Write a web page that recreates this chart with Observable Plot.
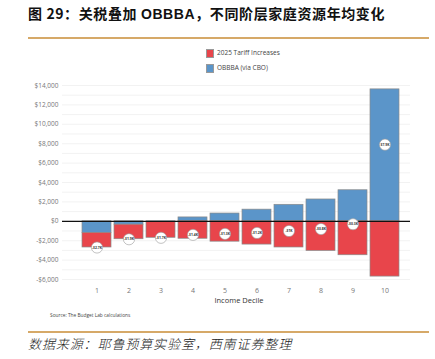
<!DOCTYPE html>
<html><head><meta charset="utf-8">
<script src="https://cdn.jsdelivr.net/npm/d3@7"></script>
<script src="https://cdn.jsdelivr.net/npm/@observablehq/plot@0.6"></script>
<style>
html,body{margin:0;padding:0;background:#fff}
body{width:435px;height:359px;position:relative;overflow:hidden;font-family:"Open Sans","Liberation Sans",sans-serif}
.abs{position:absolute;white-space:nowrap}
#title{left:28px;top:4px;font-family:"Noto Sans CJK SC";font-weight:bold;font-size:14px;line-height:18px;color:#111;letter-spacing:0.6px}
#title b{font-family:"Liberation Sans",Arial,sans-serif;font-weight:bold}
.hr{position:absolute;left:28px;width:401px;height:2px;background:#d6a968}
#legend{left:206px;top:45px;font-size:6.5px;color:#444;line-height:15px}
#legend span.sw{display:inline-block;width:8px;height:9px;vertical-align:middle;margin-right:3px;border:0.5px solid #999;box-sizing:border-box}
#chart{left:0;top:72px}
#xlabel{left:239px;top:295px;transform:translateX(-50%);font-size:7.5px;color:#333;line-height:10px}
#source{left:50px;top:312px;font-size:4.8px;color:#444;line-height:6px}
#footer{left:28px;top:336px;font-family:"Noto Sans CJK SC";font-style:italic;font-weight:300;font-size:13px;line-height:16px;color:#222;letter-spacing:0.9px}
</style>
</head><body>
<div id="title" class="abs">图 29：关税叠加 <b>OBBBA</b>，不同阶层家庭资源年均变化</div>
<div class="hr" style="top:37px"></div>
<div id="legend" class="abs"></div>
<div id="chart" class="abs"></div>
<div id="xlabel" class="abs">Income Decile</div>
<div id="source" class="abs">Source: The Budget Lab calculations</div>
<div class="hr" style="top:331px"></div>
<div id="footer" class="abs">数据来源：耶鲁预算实验室，西南证券整理</div>
<script>
// ---- data ----
const deciles = [1, 2, 3, 4, 5, 6, 7, 8, 9, 10];
const seriesNames = ["2025 Tariff Increases", "OBBBA (via CBO)"];
const seriesColors = ["#e8454b", "#5b95c9"];
const tariff = [-1500, -1500, -1650, -1800, -2100, -2400, -2700, -3050, -3500, -5700];
const obbba = [-1200, -350, -50, 400, 800, 1200, 1700, 2250, 3200, 13600];
const netLabels = ["-$2.7K", "-$1.9K", "-$1.7K", "-$1.4K", "-$1.3K", "-$1.2K", "-$1K", "-$0.8K", "-$0.3K", "$7.9K"];
const yTicks = [-6000, -4000, -2000, 0, 2000, 4000, 6000, 8000, 10000, 12000, 14000];
const yGrid = d3.range(-6000, 14001, 1000);

// legend
const legend = document.getElementById("legend");
seriesNames.forEach((n, i) => {
  const row = document.createElement("div");
  row.innerHTML = `<span class="sw" style="background:${seriesColors[i]}"></span>${n}`;
  legend.appendChild(row);
});

// long table: OBBBA first so it stacks next to zero
const rows = [];
deciles.forEach((d, i) => {
  rows.push({decile: d, series: seriesNames[1], value: obbba[i]});
  rows.push({decile: d, series: seriesNames[0], value: tariff[i]});
});
const nets = deciles.map((d, i) => ({decile: d, net: tariff[i] + obbba[i], label: netLabels[i]}));

const fmt = v => (v < 0 ? "-" : "") + "$" + d3.format(",")(Math.abs(v));

const chart = Plot.plot({
  width: 435,
  height: 236,
  marginLeft: 62,
  marginRight: 25,
  marginTop: 13,
  marginBottom: 29,
  style: {fontFamily: "'Open Sans', sans-serif", background: "transparent"},
  x: {type: "band", domain: deciles, paddingInner: 0.106, paddingOuter: 0.361, align: 0.635, label: null, tickSize: 0, tickPadding: 9},
  y: {domain: [-6000, 14000], label: null, ticks: yTicks, tickFormat: fmt, tickSize: 0, tickPadding: 4},
  color: {domain: seriesNames, range: seriesColors},
  marks: [
    Plot.ruleY(yGrid, {stroke: "#ececec", strokeWidth: 0.7}),
    Plot.barY(rows, Plot.stackY({x: "decile", y: "value", fill: "series", stroke: "#8a8a8a", strokeWidth: 0.7})),
    Plot.ruleY([0], {stroke: "#111", strokeWidth: 1.3}),
    Plot.dot(nets, {x: "decile", y: "net", r: 5.6, fill: "white", stroke: "#9a9a9a", strokeWidth: 0.6}),
    Plot.text(nets, {x: "decile", y: "net", text: "label", fontSize: 3.4, fontWeight: "bold", fill: "#333"}),
    Plot.axisY({ticks: yTicks, tickFormat: fmt, tickSize: 0, tickPadding: 4, fontSize: 6.5, color: "#777"}),
    Plot.axisX({tickSize: 0, tickPadding: 9, fontSize: 7, color: "#777", label: null})
  ]
});
document.getElementById("chart").appendChild(chart);
</script>
</body></html>
